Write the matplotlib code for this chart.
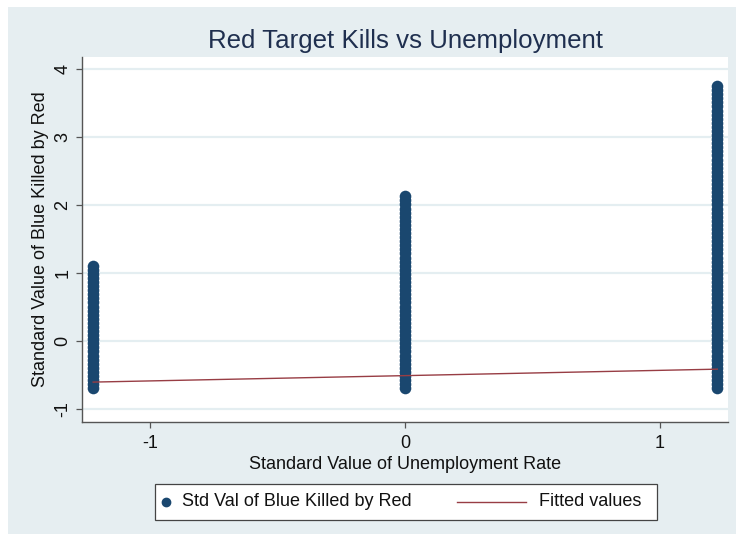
import matplotlib
matplotlib.use("Agg")
import matplotlib.pyplot as plt
from matplotlib.patches import Rectangle
from matplotlib.lines import Line2D

plt.rcParams["font.family"] = ["Liberation Sans", "DejaVu Sans"]

# Standardised unemployment rate of each group
unemployment_z = [-1.225, 0.0, 1.225]

# Standardised "blue killed by red" values observed at each unemployment level
blue_killed_low = [
    -0.69, -0.63, -0.57, -0.51, -0.45, -0.39, -0.33, -0.27, -0.21, -0.15,
    -0.09, -0.03, 0.03, 0.09, 0.15, 0.21, 0.27, 0.33, 0.39, 0.45,
    0.51, 0.57, 0.63, 0.69, 0.75, 0.81, 0.87, 0.93, 0.99, 1.05, 1.11,
]
blue_killed_mid = [
    -0.69, -0.63, -0.57, -0.51, -0.45, -0.39, -0.33, -0.27, -0.21, -0.15,
    -0.09, -0.03, 0.03, 0.09, 0.15, 0.21, 0.27, 0.33, 0.39, 0.45,
    0.51, 0.57, 0.63, 0.69, 0.75, 0.81, 0.87, 0.93, 0.99, 1.05,
    1.11, 1.17, 1.23, 1.29, 1.35, 1.41, 1.47, 1.53, 1.59, 1.65,
    1.71, 1.77, 1.83, 1.89, 1.95, 2.01, 2.07, 2.13,
]
blue_killed_high = [
    -0.69, -0.63, -0.57, -0.51, -0.45, -0.39, -0.33, -0.27, -0.21, -0.15,
    -0.09, -0.03, 0.03, 0.09, 0.15, 0.21, 0.27, 0.33, 0.39, 0.45,
    0.51, 0.57, 0.63, 0.69, 0.75, 0.81, 0.87, 0.93, 0.99, 1.05,
    1.11, 1.17, 1.23, 1.29, 1.35, 1.41, 1.47, 1.53, 1.59, 1.65,
    1.71, 1.77, 1.83, 1.89, 1.95, 2.01, 2.07, 2.13, 2.19, 2.25,
    2.31, 2.37, 2.43, 2.49, 2.55, 2.61, 2.67, 2.73, 2.79, 2.85,
    2.91, 2.97, 3.03, 3.09, 3.15, 3.21, 3.27, 3.33, 3.39, 3.45,
    3.51, 3.57, 3.63, 3.69, 3.75,
]

# Linear fit endpoints
fit_x = [-1.225, 1.225]
fit_y = [-0.60, -0.41]

x_ticks = [-1, 0, 1]
y_ticks = [-1, 0, 1, 2, 3, 4]

title = "Red Target Kills vs Unemployment"
x_title = "Standard Value of Unemployment Rate"
y_title = "Standard Value of Blue Killed by Red"
legend_labels = ["Std Val of Blue Killed by Red", "Fitted values"]

NAVY = "#1A476F"
MAROON = "#983D44"
BG = "#E6EEF1"
GRID = "#E4EEF1"
TITLE_C = "#1F2F4F"

W, H = 736, 536
fig = plt.figure(figsize=(W / 100, H / 100), dpi=100, facecolor="white")


def fx(px):
    return px / W


def fy(py):
    return 1 - py / H


# graph region background
fig.patches.append(Rectangle((fx(8), fy(534)), fx(736) - fx(8), fy(7) - fy(534),
                             transform=fig.transFigure, facecolor=BG,
                             edgecolor="none", zorder=-5))

ax = fig.add_axes([fx(81.7), fy(421.5), fx(728) - fx(81.7), fy(56.7) - fy(421.5)])
ax.set_facecolor("white")

groups = [blue_killed_low, blue_killed_mid, blue_killed_high]
for xv, ys in zip(unemployment_z, groups):
    ax.scatter([xv] * len(ys), ys, s=70, color=NAVY, linewidths=0, zorder=3)

ax.plot(fit_x, fit_y, color=MAROON, lw=1.0, zorder=4)

ax.set_xlim(-1.270, 1.267)
ax.set_ylim(-1.179, 4.181)
ax.set_xticks(x_ticks)
ax.set_yticks(y_ticks)
ax.set_xticklabels([str(t) for t in x_ticks])
ax.set_yticklabels([str(t) for t in y_ticks])
ax.yaxis.grid(True, color=GRID, lw=1.6, zorder=0)
ax.set_axisbelow(True)

for side in ("top", "right"):
    ax.spines[side].set_visible(False)
for side in ("left", "bottom"):
    ax.spines[side].set_color("#555555")
    ax.spines[side].set_linewidth(1.0)

ax.tick_params(axis="both", length=4.5, width=0.9, color="#555555",
               labelsize=13, labelcolor="#111111")
ax.tick_params(axis="x", pad=5)
ax.tick_params(axis="y", pad=3, labelrotation=90)
for lab in ax.get_yticklabels():
    lab.set_verticalalignment("center")

fig.text(fx(405), fy(48.3), title, ha="center", va="baseline",
         fontsize=18.6, color=TITLE_C)
fig.text(fx(405), fy(469), x_title, ha="center", va="baseline",
         fontsize=13, color="#111111")
fig.text(fx(41), fy(239), y_title, ha="center", va="center", rotation=90,
         fontsize=13, color="#111111")

# legend box
fig.patches.append(Rectangle((fx(154.5), fy(520)), fx(657) - fx(154.5), fy(484) - fy(520),
                             transform=fig.transFigure, facecolor="white",
                             edgecolor="#444444", lw=0.9, zorder=2))
fig.lines.append(Line2D([fx(166)], [fy(502)], transform=fig.transFigure,
                        marker="o", markersize=6, color=NAVY, lw=0, zorder=3))
fig.text(fx(182), fy(502), legend_labels[0], ha="left", va="center",
         fontsize=13, color="#111111", zorder=3)
fig.lines.append(Line2D([fx(457), fx(526)], [fy(502), fy(502)],
                        transform=fig.transFigure, color=MAROON, lw=1.0, zorder=3))
fig.text(fx(539), fy(502), legend_labels[1], ha="left", va="center",
         fontsize=13, color="#111111", zorder=3)

fig.savefig("out.png", dpi=100, facecolor="white")
